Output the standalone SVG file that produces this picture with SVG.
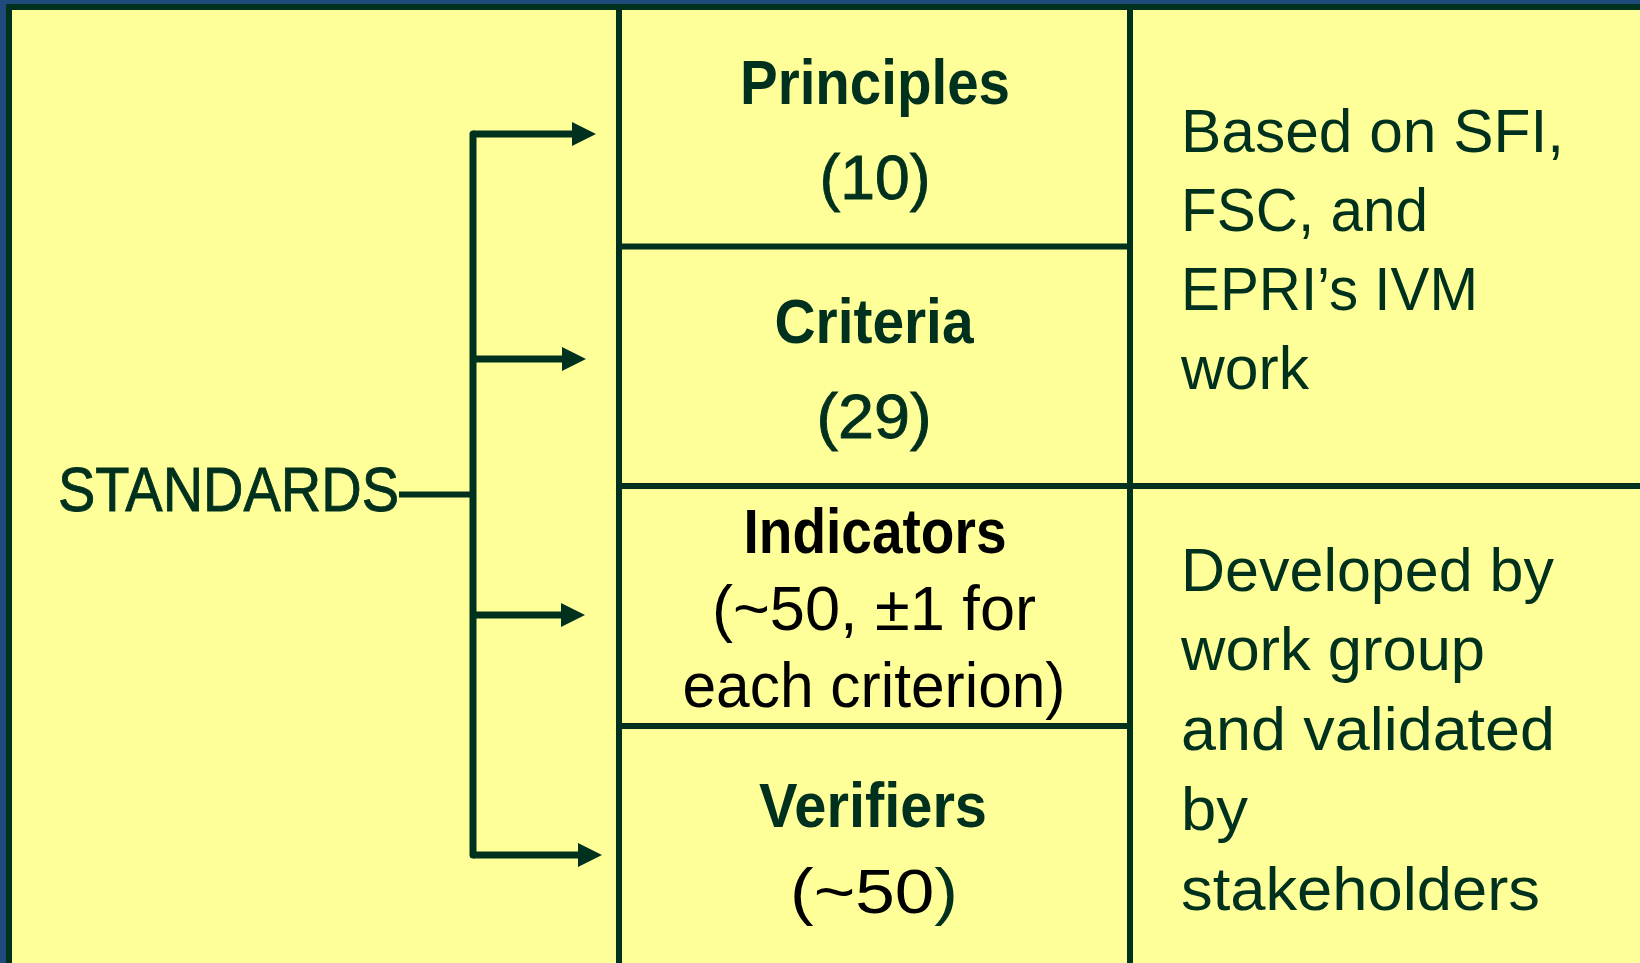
<svg xmlns="http://www.w3.org/2000/svg" width="1640" height="963" viewBox="0 0 1640 963">
<style>
.ln{stroke:#00301E;stroke-width:6;fill:none}
.cn{stroke:#00301E;stroke-width:7;fill:none}
.t{font-family:"Liberation Sans",Arial,sans-serif;fill:#00301E}
.h{font-size:63px;font-weight:bold;text-anchor:middle}
.m{font-size:63px;text-anchor:middle}
.r{font-size:62px}
.k{fill:#000}
.w{stroke:#00301E;stroke-width:0.9}
</style>
<defs>
<marker id="ah" viewBox="0 0 24 24" refX="0" refY="12" markerWidth="24" markerHeight="24" markerUnits="userSpaceOnUse" orient="auto">
<path d="M0,0 L24,12 L0,24 z" fill="#00301E"/>
</marker>
</defs>
<rect x="0" y="0" width="1640" height="963" fill="#1F4A7C"/>
<rect x="9" y="7" width="1700" height="1000" fill="#FFFF99" stroke="#00301E" stroke-width="6"/>
<g id="grid">
<line class="ln" x1="619" y1="7" x2="619" y2="963"/>
<line class="ln" x1="1130" y1="7" x2="1130" y2="963"/>
<line class="ln" x1="619" y1="246.5" x2="1130" y2="246.5"/>
<line class="ln" x1="619" y1="486" x2="1640" y2="486"/>
<line class="ln" x1="619" y1="726" x2="1130" y2="726"/>
</g>
<g id="connectors">
<path class="cn" d="M473 134 V855" stroke-linecap="round"/>
<path class="cn" d="M473 134 H572" marker-end="url(#ah)"/>
<path class="cn" d="M473 359 H562" marker-end="url(#ah)"/>
<path class="cn" d="M473 615 H561" marker-end="url(#ah)"/>
<path class="cn" d="M473 855 H578" marker-end="url(#ah)"/>
<path class="ln" d="M399 494.5 H473" stroke-width="5"/>
</g>
<g id="standards">
<text class="t w" x="58" y="511" font-size="63" textLength="341" lengthAdjust="spacingAndGlyphs">STANDARDS</text>
</g>
<g id="principles">
<text class="t h" x="875" y="104" textLength="270" lengthAdjust="spacingAndGlyphs">Principles</text>
<text class="t m w" x="875" y="199" textLength="111" lengthAdjust="spacingAndGlyphs">(10)</text>
</g>
<g id="criteria">
<text class="t h" x="874" y="343" textLength="199" lengthAdjust="spacingAndGlyphs">Criteria</text>
<text class="t m w" x="874" y="438" textLength="115" lengthAdjust="spacingAndGlyphs">(29)</text>
</g>
<g id="indicators">
<text class="t h k" x="875" y="553" textLength="263" lengthAdjust="spacingAndGlyphs">Indicators</text>
<text class="t m k" x="874" y="630" textLength="324" lengthAdjust="spacingAndGlyphs">(~50, ±1 for</text>
<text class="t m k" x="874" y="707" textLength="383" lengthAdjust="spacingAndGlyphs">each criterion)</text>
</g>
<g id="verifiers">
<text class="t h" x="873" y="827" textLength="228" lengthAdjust="spacingAndGlyphs">Verifiers</text>
<text class="t m k" x="874" y="913" font-size="69" textLength="168" lengthAdjust="spacingAndGlyphs">(~50<tspan fill="#00301E">)</tspan></text>
</g>
<g id="based-on">
<text class="t r" x="1181" y="152" textLength="383" lengthAdjust="spacingAndGlyphs">Based on SFI,</text>
<text class="t r" x="1181" y="231" textLength="247" lengthAdjust="spacingAndGlyphs">FSC, and</text>
<text class="t r" x="1181" y="310" textLength="297" lengthAdjust="spacingAndGlyphs">EPRI’s IVM</text>
<text class="t r" x="1181" y="389" textLength="128" lengthAdjust="spacingAndGlyphs">work</text>
</g>
<g id="developed-by">
<text class="t r" x="1181" y="591" textLength="373" lengthAdjust="spacingAndGlyphs">Developed by</text>
<text class="t r" x="1181" y="670" textLength="304" lengthAdjust="spacingAndGlyphs">work group</text>
<text class="t r" x="1181" y="750" textLength="374" lengthAdjust="spacingAndGlyphs">and validated</text>
<text class="t r" x="1181" y="830" textLength="67" lengthAdjust="spacingAndGlyphs">by</text>
<text class="t r" x="1181" y="910" textLength="359" lengthAdjust="spacingAndGlyphs">stakeholders</text>
</g>
</svg>
